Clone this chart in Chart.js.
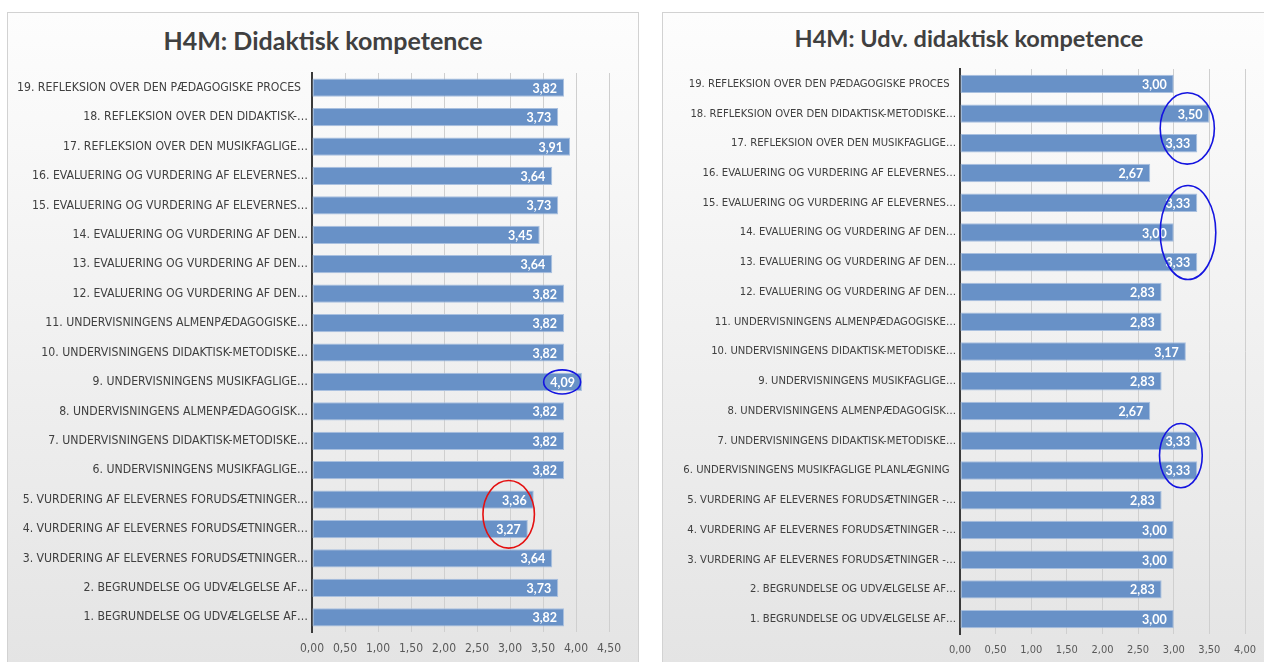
<!DOCTYPE html>
<html>
<head>
<meta charset="utf-8">
<script src="https://cdn.jsdelivr.net/npm/chart.js@4"></script>
<style>
  body { margin:0; background:#fff; width:1264px; height:662px; overflow:hidden; position:relative; }
  .panel { position:absolute; box-sizing:border-box; border:1px solid #d2d2d2; background:linear-gradient(#fdfdfd, #e3e3e3); }
  .title { position:absolute; text-align:center; font-family:Lato, sans-serif; font-weight:bold; color:#404040; white-space:nowrap; }
  canvas { position:absolute; }
</style>
</head>
<body>
<div class="panel" style="left:7px; top:12px; width:632px; height:680px;"></div>
<div class="panel" style="left:662px; top:12px; width:640px; height:680px;"></div>
<div class="title" style="left:7px; width:632px; top:25px; font-size:25px; line-height:30px;">H4M: Didaktisk kompetence</div>
<div class="title" style="left:662px; width:614px; top:24px; font-size:23.5px; line-height:28px;">H4M: Udv. didaktisk kompetence</div>
<canvas id="didaktisk" width="632" height="650" style="left:7px; top:12px;"></canvas>
<canvas id="udvDidaktisk" width="612" height="650" style="left:662px; top:12px;"></canvas>
<script>
// spørgsmål 1..19 (nederst -> øverst)
const labelsDidaktisk = [
  '1. BEGRUNDELSE OG UDVÆLGELSE AF…',
  '2. BEGRUNDELSE OG UDVÆLGELSE AF…',
  '3. VURDERING AF ELEVERNES FORUDSÆTNINGER…',
  '4. VURDERING AF ELEVERNES FORUDSÆTNINGER…',
  '5. VURDERING AF ELEVERNES FORUDSÆTNINGER…',
  '6. UNDERVISNINGENS MUSIKFAGLIGE…',
  '7. UNDERVISNINGENS DIDAKTISK-METODISKE…',
  '8. UNDERVISNINGENS ALMENPÆDAGOGISK…',
  '9. UNDERVISNINGENS MUSIKFAGLIGE…',
  '10. UNDERVISNINGENS DIDAKTISK-METODISKE…',
  '11. UNDERVISNINGENS ALMENPÆDAGOGISKE…',
  '12. EVALUERING OG VURDERING AF DEN…',
  '13. EVALUERING OG VURDERING AF DEN…',
  '14. EVALUERING OG VURDERING AF DEN…',
  '15. EVALUERING OG VURDERING AF ELEVERNES…',
  '16. EVALUERING OG VURDERING AF ELEVERNES…',
  '17. REFLEKSION OVER DEN MUSIKFAGLIGE…',
  '18. REFLEKSION OVER DEN DIDAKTISK-…',
  '19. REFLEKSION OVER DEN PÆDAGOGISKE PROCES  '
];
const valuesDidaktisk = [3.82, 3.73, 3.64, 3.27, 3.36, 3.82, 3.82, 3.82, 4.09, 3.82,
                         3.82, 3.82, 3.64, 3.45, 3.73, 3.64, 3.91, 3.73, 3.82];

const labelsUdv = [
  '1. BEGRUNDELSE OG UDVÆLGELSE AF…',
  '2. BEGRUNDELSE OG UDVÆLGELSE AF…',
  '3. VURDERING AF ELEVERNES FORUDSÆTNINGER -…',
  '4. VURDERING AF ELEVERNES FORUDSÆTNINGER -…',
  '5. VURDERING AF ELEVERNES FORUDSÆTNINGER -…',
  '6. UNDERVISNINGENS MUSIKFAGLIGE PLANLÆGNING  ',
  '7. UNDERVISNINGENS DIDAKTISK-METODISKE…',
  '8. UNDERVISNINGENS ALMENPÆDAGOGISK…',
  '9. UNDERVISNINGENS MUSIKFAGLIGE…',
  '10. UNDERVISNINGENS DIDAKTISK-METODISKE…',
  '11. UNDERVISNINGENS ALMENPÆDAGOGISKE…',
  '12. EVALUERING OG VURDERING AF DEN…',
  '13. EVALUERING OG VURDERING AF DEN…',
  '14. EVALUERING OG VURDERING AF DEN…',
  '15. EVALUERING OG VURDERING AF ELEVERNES…',
  '16. EVALUERING OG VURDERING AF ELEVERNES…',
  '17. REFLEKSION OVER DEN MUSIKFAGLIGE…',
  '18. REFLEKSION OVER DEN DIDAKTISK-METODISKE…',
  '19. REFLEKSION OVER DEN PÆDAGOGISKE PROCES  '
];
const valuesUdv = [3.00, 2.83, 3.00, 3.00, 2.83, 3.33, 3.33, 2.67, 2.83, 3.17,
                   2.83, 2.83, 3.33, 3.00, 3.33, 2.67, 3.33, 3.50, 3.00];

const BAR = '#6891c7';
const BAR_EDGE = '#a9c0df';
const TEXT = '#404040';
const LABEL_FONT = "'Liberation Sans Narrow', 'DejaVu Sans Condensed', sans-serif";

const fmt = v => v.toFixed(2).replace('.', ',');

// hvide værdier inde i enden af søjlerne
const valueLabels = {
  id: 'valueLabels',
  afterDatasetsDraw(chart) {
    const ctx = chart.ctx;
    const values = chart.data.datasets[0].data;
    ctx.save();
    ctx.font = 'bold 12.5px Lato';
    ctx.fillStyle = '#fff';
    ctx.textAlign = 'right';
    ctx.textBaseline = 'middle';
    chart.getDatasetMeta(0).data.forEach((bar, i) => {
      ctx.fillText(fmt(values[i]), bar.x - 7, bar.y + 1);
    });
    ctx.restore();
  }
};

// markeringer (ellipser) omkring udvalgte værdier, angivet i dataenheder
const rings = {
  id: 'rings',
  afterDraw(chart, args, opts) {
    const { ctx, scales: { x, y } } = chart;
    const step = Math.abs(y.getPixelForValue(1) - y.getPixelForValue(0));
    ctx.save();
    ctx.lineWidth = 1.6;
    (opts.list || []).forEach(r => {
      const cx = x.getPixelForValue(r.value);
      const rx = x.getPixelForValue(r.value + r.rx) - cx;
      const cy = (y.getPixelForValue(r.from - 1) + y.getPixelForValue(r.to - 1)) / 2;
      ctx.strokeStyle = r.color;
      ctx.beginPath();
      ctx.ellipse(cx, cy, rx, r.ry * step, 0, 0, Math.PI * 2);
      ctx.stroke();
    });
    ctx.restore();
  }
};

function makeChart(id, labels, values, o) {
  return new Chart(document.getElementById(id), {
    type: 'bar',
    data: {
      labels: labels,
      datasets: [{
        data: values,
        backgroundColor: BAR,
        borderColor: BAR_EDGE,
        borderWidth: 1,
        borderSkipped: false,
        barPercentage: 0.62,
        categoryPercentage: 1
      }]
    },
    options: {
      indexAxis: 'y',
      responsive: false,
      animation: false,
      layout: { padding: { left: 0, right: o.padRight, top: o.padTop, bottom: 0 } },
      plugins: {
        legend: { display: false },
        tooltip: { enabled: false },
        rings: { list: o.rings }
      },
      scales: {
        x: {
          min: 0,
          max: o.max,
          ticks: {
            stepSize: 0.5,
            callback: v => fmt(v),
            color: '#595959',
            font: { family: LABEL_FONT, size: o.tickSize },
            padding: 10
          },
          grid: { color: '#cfcfcf', lineWidth: 1, drawTicks: false },
          border: { display: false },
          afterFit: s => { s.height = o.xHeight; }
        },
        y: {
          reverse: true,
          ticks: {
            color: TEXT,
            font: { family: LABEL_FONT, size: o.labelSize },
            padding: 4,
            autoSkip: false
          },
          grid: { display: false, drawTicks: false },
          border: { display: true, color: '#3a3a3a', width: 2 },
          afterFit: s => { s.width = o.yWidth; }
        }
      }
    },
    plugins: [valueLabels, rings]
  });
}

makeChart('didaktisk', labelsDidaktisk, valuesDidaktisk, {
  max: 4.5, padRight: 30, padTop: 61, yWidth: 305, xHeight: 30,
  labelSize: 12.2, tickSize: 12,
  rings: [
    { from: 9, to: 9, value: 3.79, rx: 0.28, ry: 0.41, color: '#1414e0' },
    { from: 4, to: 5, value: 2.98, rx: 0.39, ry: 1.15, color: '#e41010' }
  ]
});

makeChart('udvDidaktisk', labelsUdv, valuesUdv, {
  max: 4.0, padRight: 29, padTop: 57, yWidth: 298, xHeight: 28,
  labelSize: 11.2, tickSize: 11,
  rings: [
    { from: 17, to: 18, value: 3.19, rx: 0.38, ry: 1.2, color: '#1414e0' },
    { from: 13, to: 15, value: 3.20, rx: 0.39, ry: 1.58, color: '#1414e0' },
    { from: 6, to: 7, value: 3.10, rx: 0.30, ry: 1.08, color: '#1414e0' }
  ]
});
</script>
</body>
</html>
